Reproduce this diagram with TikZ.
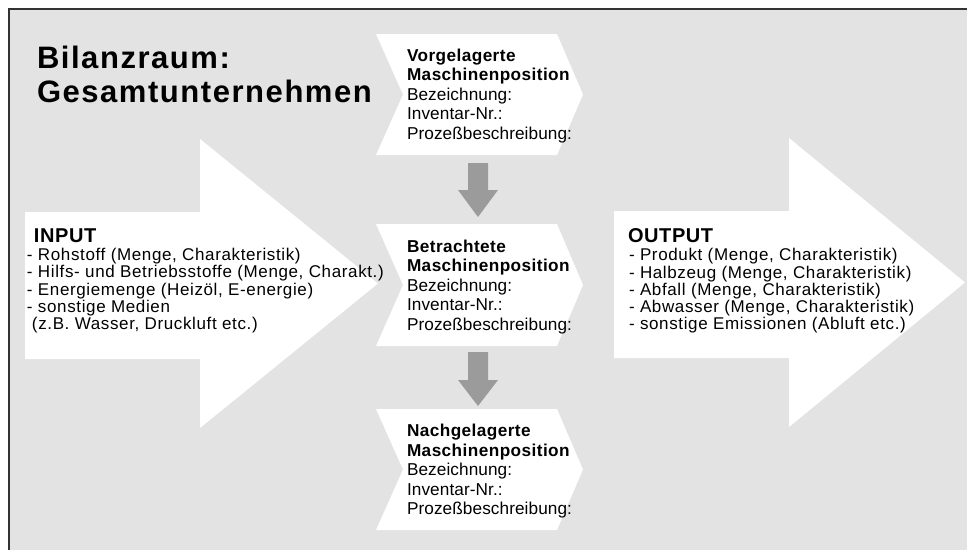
\documentclass[tikz,border=0pt]{standalone}
\usepackage{fontspec}
\setmainfont{Liberation Sans}
\newfontfamily\titlefont[LetterSpace=5]{Liberation Sans}
\newfontfamily\listfont[LetterSpace=3.7]{Liberation Sans}
\newfontfamily\chevfont[LetterSpace=0.5]{Liberation Sans}
\newfontfamily\chevbold[LetterSpace=2.5]{Liberation Sans}
\newfontfamily\headfont[LetterSpace=3]{Liberation Sans}
\definecolor{bg}{HTML}{E3E3E3}
\definecolor{arrowgray}{HTML}{9B9B9B}
\definecolor{frameline}{HTML}{333333}
\newcommand\stk[2]{\vtop{\baselineskip=#1\lineskiplimit=-100pt\lineskip=0pt #2}}
\begin{document}
\begin{tikzpicture}[x=1pt,y=-1pt,
  txt/.style={anchor=base west, inner sep=0pt, outer sep=0pt},
  titletxt/.style={txt, font={\titlefont\bfseries\fontsize{31pt}{34pt}\selectfont}},
  headtxt/.style={txt, font={\headfont\bfseries\fontsize{20pt}{20pt}\selectfont}},
  listtxt/.style={txt, font={\listfont\fontsize{17pt}{17pt}\selectfont}},
  chevtxt/.style={txt, font={\chevfont\fontsize{17.2pt}{17pt}\selectfont}},
  bigarrow/.style={fill=white},
  chevron/.style={fill=white},
  flowarrow/.style={fill=arrowgray}]
\useasboundingbox (0,0) rectangle (967,550);
% background area of the balance space
\fill[bg] (9,9) rectangle (967,550);
\draw[line width=1.5pt, frameline] (9,550) -- (9,9) -- (967,9);

% INPUT and OUTPUT block arrows
\fill[bigarrow] (25,212) -- (200,212) -- (200,139) -- (378,283.5) -- (200,428) -- (200,359) -- (25,359) -- cycle;
\fill[bigarrow] (614,211) -- (789,211) -- (789,138) -- (965,282.5) -- (789,427) -- (789,358) -- (614,358) -- cycle;

% machine position chevrons
\fill[chevron] (376,34) -- (557,34) -- (583,94.5) -- (557,155) -- (376,155) -- (403,94.5) -- cycle;
\fill[chevron] (376,224) -- (557,224) -- (583,285) -- (557,346) -- (376,346) -- (403,285) -- cycle;
\fill[chevron] (376,409) -- (557,409) -- (583,469.5) -- (557,530) -- (376,530) -- (403,469.5) -- cycle;

% flow arrows between chevrons
\coordinate (a1) at (478,163);
\coordinate (a2) at (478,352);
\fill[flowarrow] (468,163) -- (488,163) -- (488,190) -- (498,190) -- (478,217) -- (458,190) -- (468,190) -- cycle;
\fill[flowarrow] (468,352) -- (488,352) -- (488,380) -- (498,380) -- (478,406) -- (458,380) -- (468,380) -- cycle;

% title
\node[titletxt] (title) at (37,68) {\stk{34.5pt}{\hbox{Bilanzraum:}\hbox{Gesamtunternehmen}}};

% INPUT
\node[headtxt] (inhead) at (34,242) {INPUT};
\node[listtxt] (inlist) at (27,260.5) {\stk{17.3pt}{%
  \hbox{- Rohstoff (Menge, Charakteristik)}%
  \hbox{- Hilfs- und Betriebsstoffe (Menge, Charakt.)}%
  \hbox{- Energiemenge (Heizöl, E-energie)}%
  \hbox{- sonstige Medien}%
  \hbox{\kern5pt(z.B. Wasser, Druckluft etc.)}}};

% OUTPUT
\node[headtxt] (outhead) at (628,242) {OUTPUT};
\node[listtxt] (outlist) at (629,260.7) {\stk{17.3pt}{%
  \hbox{- Produkt (Menge, Charakteristik)}%
  \hbox{- Halbzeug (Menge, Charakteristik)}%
  \hbox{- Abfall (Menge, Charakteristik)}%
  \hbox{- Abwasser (Menge, Charakteristik)}%
  \hbox{- sonstige Emissionen (Abluft etc.)}}};

% chevron texts
\node[chevtxt] (vor) at (407,61) {\stk{19.5pt}{%
  \hbox{\chevbold\bfseries Vorgelagerte}%
  \hbox{\chevbold\bfseries Maschinenposition}%
  \hbox{Bezeichnung:}%
  \hbox{Inventar-Nr.:}%
  \hbox{Prozeßbeschreibung:}}};
\node[chevtxt] (betr) at (407,252) {\stk{19.5pt}{%
  \hbox{\chevbold\bfseries Betrachtete}%
  \hbox{\chevbold\bfseries Maschinenposition}%
  \hbox{Bezeichnung:}%
  \hbox{Inventar-Nr.:}%
  \hbox{Prozeßbeschreibung:}}};
\node[chevtxt] (nach) at (407,436.5) {\stk{19.5pt}{%
  \hbox{\chevbold\bfseries Nachgelagerte}%
  \hbox{\chevbold\bfseries Maschinenposition}%
  \hbox{Bezeichnung:}%
  \hbox{Inventar-Nr.:}%
  \hbox{Prozeßbeschreibung:}}};
\end{tikzpicture}
\end{document}
